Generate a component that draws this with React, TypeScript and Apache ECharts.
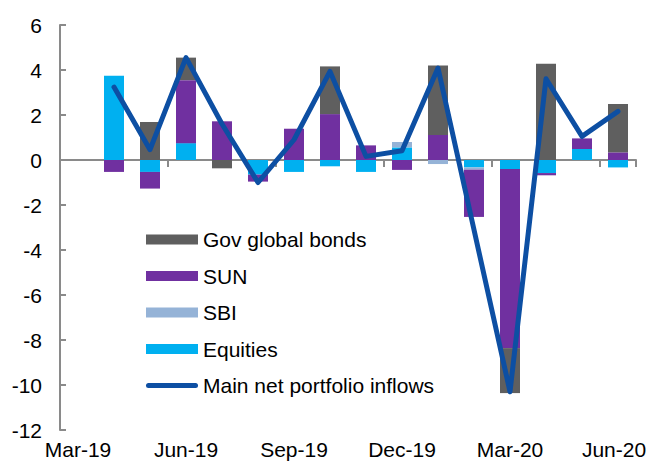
import React, { useEffect, useRef } from "react";
import * as echarts from "echarts";

const categories = [
  "Mar-19", "Apr-19", "May-19", "Jun-19", "Jul-19", "Aug-19", "Sep-19", "Oct-19",
  "Nov-19", "Dec-19", "Jan-20", "Feb-20", "Mar-20", "Apr-20", "May-20", "Jun-20",
];
const equities = [null, 3.75, -0.53, 0.75, 0, -0.65, -0.53, -0.28, -0.53, 0.56, 0, -0.33, -0.4, -0.58, 0.49, -0.33];
const sbi = [null, 0, 0, 0, 0, 0, 0, 0, 0, 0.24, -0.18, -0.1, 0, 0, 0, 0];
const sun = [null, -0.53, -0.74, 2.8, 1.72, -0.31, 1.39, 2.04, 0.65, -0.44, 1.11, -2.1, -7.96, -0.1, 0.47, 0.34];
const govBonds = [null, 0, 1.69, 1.0, -0.37, 0, 0, 2.12, 0, 0, 3.09, 0, -2.0, 4.28, 0, 2.15];
const mainInflows = [null, 3.24, 0.46, 4.55, 1.6, -1.0, 0.9, 3.94, 0.16, 0.41, 4.09, -3.1, -10.3, 3.61, 1.05, 2.16];
const yTicks = { min: -12, max: 6, interval: 2 };

const FONT = "'Liberation Sans', Arial, sans-serif";
const AXIS_GRAY = "#8a8a8a";
const LINE_ICON = "path://M2.5,0 L49.5,0 A2.5,2.5 0 0 1 49.5,5 L2.5,5 A2.5,2.5 0 0 1 2.5,0 Z";

export default function App() {
  const ref = useRef<HTMLDivElement>(null);
  useEffect(() => {
    if (!ref.current) return;
    const chart = echarts.init(ref.current, undefined, { renderer: "svg" });
    const bar = (name: string, data: (number | null)[], color: string) => ({
      name,
      type: "bar",
      stack: "total",
      xAxisIndex: 1,
      barWidth: 20,
      data,
      itemStyle: { color },
    });
    const lastCat = categories[categories.length - 1];
    chart.setOption({
      animation: false,
      textStyle: { fontFamily: FONT },
      grid: { left: 60, right: 12, top: 25, bottom: 32, containLabel: false, outerBoundsMode: "none" },
      legend: {
        orient: "vertical",
        left: 146,
        top: 229,
        padding: 0,
        itemWidth: 52,
        itemHeight: 10,
        itemGap: 15.5,
        symbolKeepAspect: true,
        textStyle: { fontSize: 21, color: "#000", fontFamily: FONT },
        data: [
          { name: "Gov global bonds", icon: "rect" },
          { name: "SUN", icon: "rect" },
          { name: "SBI", icon: "rect" },
          { name: "Equities", icon: "rect" },
          { name: "Main net portfolio inflows", icon: LINE_ICON },
        ],
      },
      xAxis: [
        {
          type: "category",
          data: categories,
          position: "bottom",
          axisLine: { show: false, onZero: false },
          axisTick: { show: false },
          axisLabel: {
            interval: 2,
            margin: 9,
            fontSize: 21,
            color: "#000",
            fontFamily: FONT,
            formatter: (v: string) => (v === lastCat ? `{last|${v}}` : v),
            rich: {
              last: { fontSize: 21, color: "#000", fontFamily: FONT, padding: [0, 8, 0, 0] },
            },
          },
        },
        {
          type: "category",
          data: categories,
          position: "top",
          axisLine: { show: true, onZero: true, lineStyle: { color: AXIS_GRAY, width: 2 } },
          axisTick: {
            show: true,
            inside: true,
            interval: 2,
            length: 7,
            lineStyle: { color: AXIS_GRAY, width: 2 },
          },
          axisLabel: { show: false },
        },
      ],
      yAxis: {
        type: "value",
        min: yTicks.min,
        max: yTicks.max,
        interval: yTicks.interval,
        axisLine: { show: true, lineStyle: { color: AXIS_GRAY, width: 2 } },
        axisTick: { show: true, inside: true, length: 6, lineStyle: { color: AXIS_GRAY, width: 2 } },
        splitLine: { show: false },
        axisLabel: { fontSize: 21, color: "#000", margin: 18, fontFamily: FONT },
      },
      series: [
        bar("Equities", equities, "#00b0f0"),
        bar("SBI", sbi, "#95b3d7"),
        bar("SUN", sun, "#7030a0"),
        bar("Gov global bonds", govBonds, "#5f5f5f"),
        {
          name: "Main net portfolio inflows",
          type: "line",
          xAxisIndex: 1,
          data: mainInflows,
          symbol: "none",
          lineStyle: { color: "#0d4fa3", width: 5, cap: "round", join: "round" },
          itemStyle: { color: "#0d4fa3" },
          z: 5,
        },
      ],
    });
    return () => chart.dispose();
  }, []);
  return <div ref={ref} style={{ width: 648, height: 462, position: "absolute", left: 0, top: 0 }} />;
}
